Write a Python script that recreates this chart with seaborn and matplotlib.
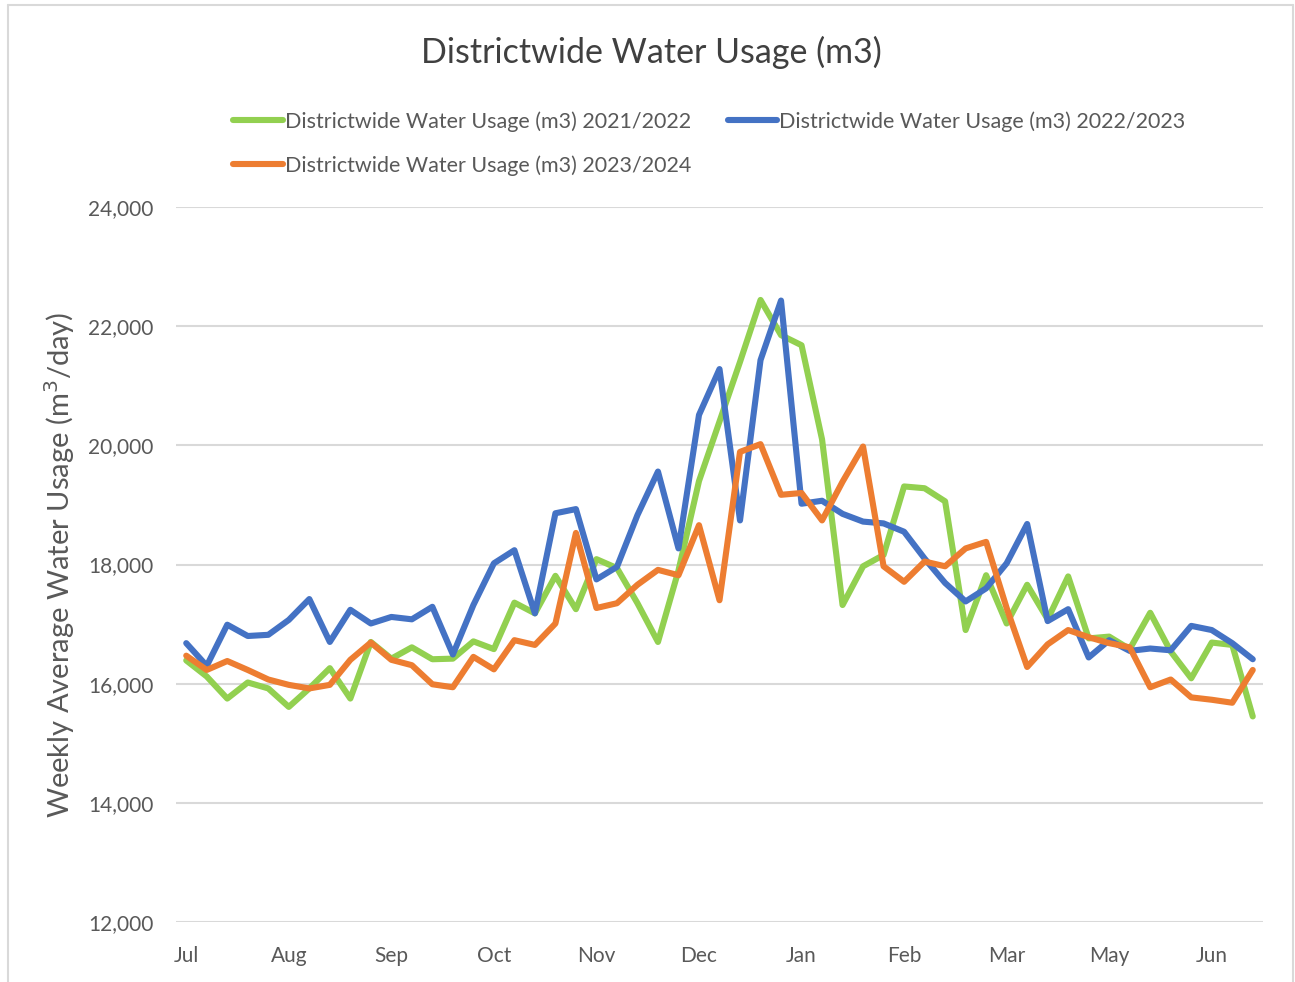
import matplotlib

matplotlib.use("Agg")
import matplotlib.pyplot as plt  # noqa: E402
import seaborn as sns  # noqa: E402
import pandas as pd  # noqa: E402
from matplotlib.lines import Line2D  # noqa: E402
from matplotlib.ticker import FuncFormatter  # noqa: E402

# ---------------------------------------------------------------------------
# Data (weekly averages, m3/day)
# ---------------------------------------------------------------------------
TICK_LABELS = ["Jul", "Aug", "Sep", "Oct", "Nov", "Dec", "Jan", "Feb", "Mar", "May", "Jun"]

usage_2021_2022 = [
    16390, 16120, 15750, 16020, 15920, 15610, 15920, 16260, 15750, 16700,
    16420, 16610, 16410, 16420, 16710, 16580, 17360, 17180, 17810, 17250,
    18090, 17940, 17350, 16700, 17900, 19400, 20400, 21400, 22440, 21850,
    21680, 20100, 17320, 17970, 18160, 19310, 19280, 19060, 16900, 17820,
    17010, 17660, 17080, 17800, 16760, 16790, 16580, 17190, 16540, 16090,
    16690, 16650, 15450,
]
usage_2022_2023 = [
    16680, 16300, 16990, 16800, 16820, 17070, 17420, 16700, 17240, 17010,
    17120, 17080, 17290, 16490, 17320, 18020, 18240, 17180, 18860, 18930,
    17750, 17960, 18830, 19560, 18270, 20510, 21280, 18740, 21430, 22430,
    19020, 19070, 18850, 18720, 18690, 18550, 18100, 17690, 17380, 17600,
    18020, 18680, 17050, 17250, 16440, 16730, 16550, 16590, 16560, 16970,
    16900, 16680, 16410,
]
usage_2023_2024 = [
    16470, 16230, 16380, 16230, 16070, 15980, 15920, 15980, 16400, 16690,
    16400, 16310, 15990, 15940, 16450, 16240, 16730, 16650, 17010, 18530,
    17270, 17350, 17660, 17910, 17820, 18660, 17400, 19890, 20020, 19170,
    19200, 18740, 19390, 19980, 17970, 17710, 18050, 17970, 18270, 18380,
    17270, 16280, 16660, 16900, 16780, 16680, 16610, 15940, 16070, 15770,
    15730, 15680, 16230,
]

SERIES = {
    "Districtwide Water Usage (m3) 2021/2022": usage_2021_2022,
    "Districtwide Water Usage (m3) 2022/2023": usage_2022_2023,
    "Districtwide Water Usage (m3) 2023/2024": usage_2023_2024,
}
COLORS = ["#92D050", "#4472C4", "#ED7D31"]
TEXT = "#595959"

frames = []
for name, vals in SERIES.items():
    frames.append(pd.DataFrame({"week": range(len(vals)), "usage": vals, "series": name}))
df = pd.concat(frames, ignore_index=True)

sns.set_theme(style="white")
plt.rcParams["font.family"] = ["Lato", "DejaVu Sans"]

fig = plt.figure(figsize=(12.95, 9.82), dpi=100)
ax = fig.add_axes([0.1359, 0.0611, 0.8394, 0.7281])

sns.lineplot(
    data=df, x="week", y="usage", hue="series", palette=COLORS,
    linewidth=4.4, legend=False, ax=ax,
)

ax.set_xlim(-0.5, 52.5)
ax.set_ylim(12000, 24000)
ax.set_yticks(range(12000, 24001, 2000))
ax.yaxis.set_major_formatter(FuncFormatter(lambda v, _: f"{int(v):,}"))
ax.set_xticks(range(0, 5 * len(TICK_LABELS), 5))
ax.set_xticklabels(TICK_LABELS)
ax.tick_params(axis="y", length=0, pad=16, labelsize=15, labelcolor=TEXT)
ax.tick_params(axis="x", length=0, pad=17, labelsize=15, labelcolor=TEXT)
ax.grid(axis="y", color="#D9D9D9", linewidth=1.5)
ax.set_axisbelow(True)
for s in ax.spines.values():
    s.set_visible(False)

ax.set_xlabel("")
ax.set_ylabel("Weekly Average Water Usage (m$^3$/day)", fontsize=21, color=TEXT, labelpad=8)

fig.text(0.503, 0.947, "Districtwide Water Usage (m3)", ha="center", va="center",
         fontsize=24.5, color="#404040")

# Legend in row order: green, blue on first row, orange below green
names = list(SERIES.keys())
handles = [Line2D([0], [0], color=c, lw=4.4) for c in COLORS]
order = [0, 2, 1]
ax.legend(
    [handles[i] for i in order], [names[i] for i in order],
    ncol=2, loc="center left", bbox_to_anchor=(0.165, 0.854), bbox_transform=fig.transFigure,
    frameon=False, fontsize=15.5, labelcolor=TEXT, handlelength=2.3, handletextpad=0.1,
    columnspacing=1.7, labelspacing=1.1,
)

# Light chart-area border (left, top, right)
border = dict(color="#D9D9D9", linewidth=1.5, transform=fig.transFigure)
fig.add_artist(Line2D([0.006, 0.006], [0.0, 0.995], **border))
fig.add_artist(Line2D([0.006, 0.9985], [0.995, 0.995], **border))
fig.add_artist(Line2D([0.9985, 0.9985], [0.0, 0.995], **border))

fig.savefig("out.png", dpi=100)
plt.close(fig)
